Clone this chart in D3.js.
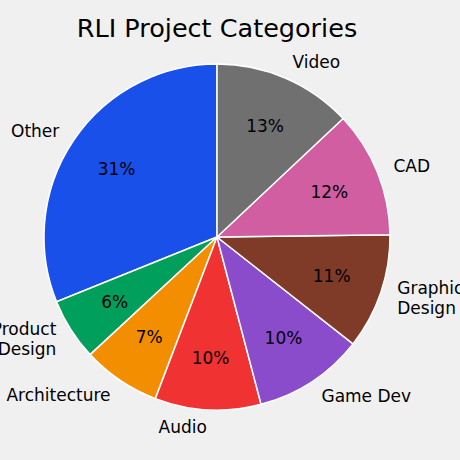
<!DOCTYPE html>
<html><head><meta charset="utf-8">
<script src="https://cdn.jsdelivr.net/npm/d3@7"></script>
<style>body{margin:0;background:#f0f0f0;}svg{display:block;}</style>
</head><body>
<svg id="c" width="460" height="460"></svg>
<script>
const categories = ["Other", "Product\nDesign", "Architecture", "Audio", "Game Dev", "Graphic\nDesign", "CAD", "Video"];
const values = [31.1, 5.8, 7.3, 9.9, 10.3, 10.8, 11.8, 13.0];
const colors = ["#1a50ea", "#00a05c", "#f28e00", "#f03232", "#8b4ccc", "#7f3a28", "#d15ea0", "#707070"];
const title = "RLI Project Categories";

const W = 460, H = 460;
const cx = 217, cy = 237, R = 173;
const svg = d3.select("#c");
svg.append("rect").attr("width", W).attr("height", H).attr("fill", "#f0f0f0");

const total = d3.sum(values);
const pie = d3.pie().sort(null).startAngle(0).endAngle(-2 * Math.PI);
const arcs = pie(values);
const arc = d3.arc().innerRadius(0).outerRadius(R);
const g = svg.append("g").attr("transform", `translate(${cx},${cy})`);
const font = "DejaVu Sans, sans-serif";
const fs = 17;

g.selectAll("path").data(arcs).join("path")
  .attr("d", arc)
  .attr("fill", (d, i) => colors[i])
  .attr("stroke", "#ffffff")
  .attr("stroke-width", 1.5)
  .attr("stroke-linejoin", "round");

arcs.forEach((d, i) => {
  const mid = (d.startAngle + d.endAngle) / 2;
  const sx = Math.sin(mid), sy = -Math.cos(mid);
  g.append("text")
    .attr("x", sx * R * 0.7).attr("y", sy * R * 0.7)
    .attr("text-anchor", "middle").attr("dominant-baseline", "central")
    .attr("font-family", font).attr("font-size", fs).attr("fill", "#000")
    .text(Math.round(values[i] / total * 100) + "%");
  const lines = categories[i].split("\n");
  const lh = 20;
  const lx = sx * R * 1.1, ly = sy * R * 1.1;
  const t = g.append("text")
    .attr("text-anchor", lx >= 0 ? "start" : "end")
    .attr("font-family", font).attr("font-size", fs).attr("fill", "#000");
  lines.forEach((ln, k) => {
    t.append("tspan").attr("x", lx)
      .attr("y", ly + (k - (lines.length - 1) / 2) * lh)
      .attr("dominant-baseline", "central")
      .text(ln);
  });
});

svg.append("text").attr("x", cx).attr("y", 37)
  .attr("text-anchor", "middle").attr("font-family", font)
  .attr("font-size", 25.5).attr("fill", "#000").text(title);
</script>
</body></html>
